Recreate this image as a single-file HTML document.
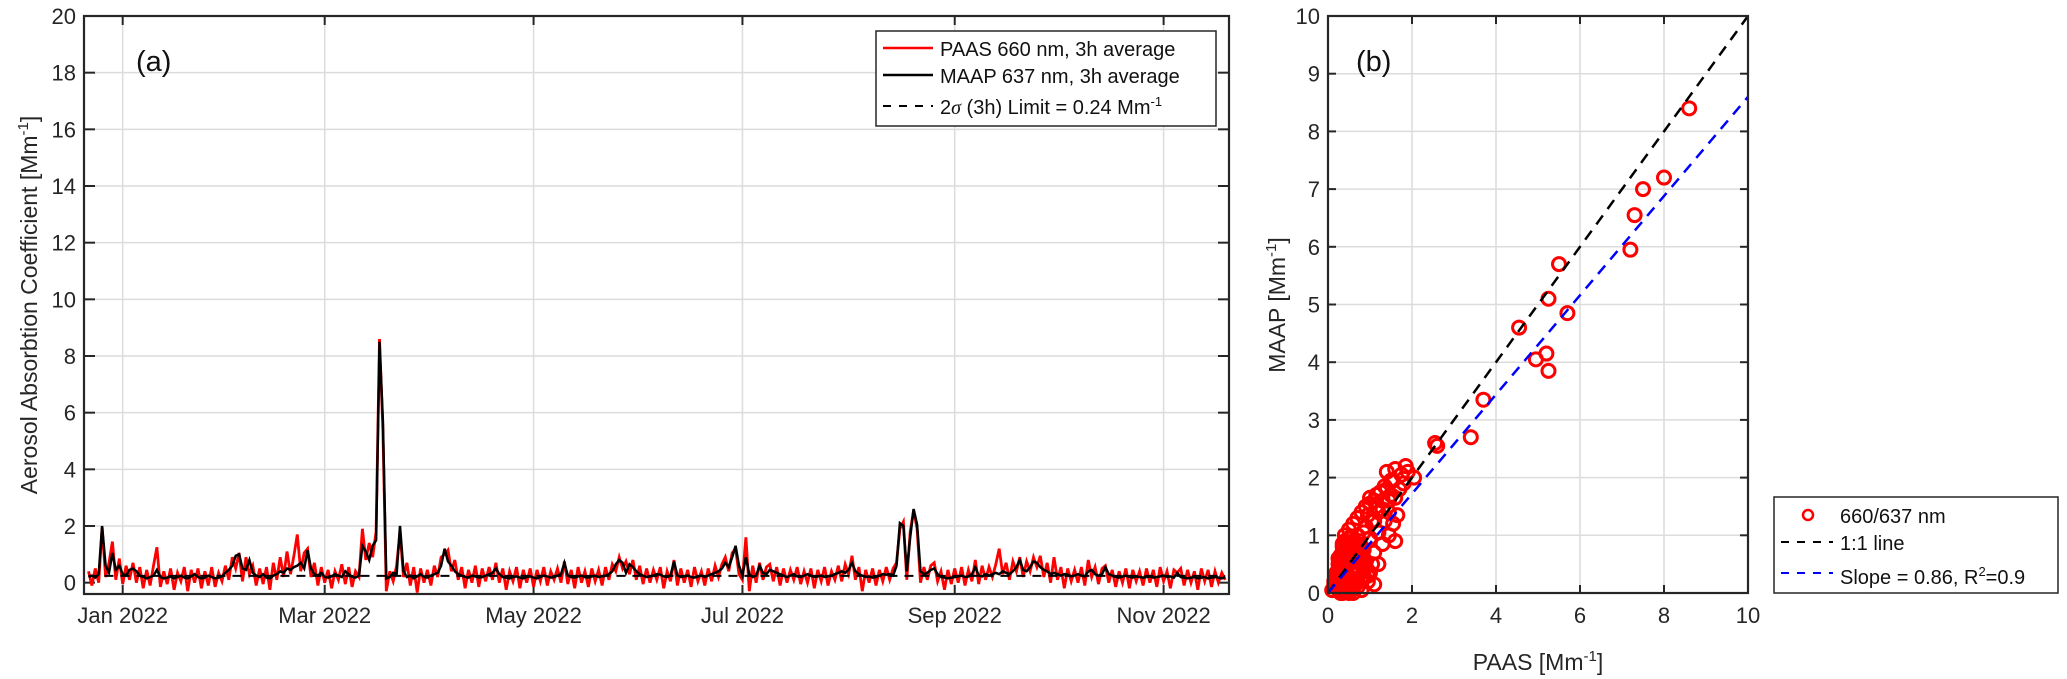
<!DOCTYPE html>
<html><head><meta charset="utf-8"><style>
html,body{margin:0;padding:0;background:#fff}
svg{display:block;font-family:"Liberation Sans",Arial,sans-serif}
</style></head><body>
<svg id="c" width="2067" height="679" viewBox="0 0 2067 679"></svg>
<script>
// ---------- data ----------
const startDay = -10; // days relative to 1 Jan 2022
const maap = [
0.20,0.25,0.18,0.30,2.00,0.60,0.35,1.05,0.45,0.60,
0.30,0.25,0.45,0.50,0.40,0.25,0.20,0.15,0.20,0.25,
0.45,0.20,0.15,0.18,0.22,0.15,0.20,0.25,0.18,0.15,
0.22,0.30,0.20,0.15,0.18,0.25,0.20,0.15,0.18,0.22,
0.35,0.45,0.60,0.95,1.00,0.50,0.45,0.80,0.35,0.25,
0.20,0.30,0.18,0.15,0.25,0.30,0.40,0.35,0.50,0.45,
0.55,0.60,0.70,0.50,1.15,0.50,0.30,0.25,0.35,0.20,
0.18,0.22,0.30,0.25,0.20,0.40,0.30,0.20,0.18,0.25,
1.30,1.10,0.80,1.30,1.50,8.50,5.70,0.15,0.20,0.35,
0.30,2.00,0.40,0.20,0.25,0.15,0.22,0.30,0.20,0.18,
0.25,0.30,0.35,0.60,1.20,0.75,0.60,0.40,0.30,0.25,
0.20,0.18,0.25,0.22,0.18,0.20,0.25,0.30,0.35,0.50,
0.30,0.20,0.18,0.15,0.20,0.22,0.18,0.15,0.20,0.22,
0.18,0.15,0.20,0.25,0.22,0.18,0.20,0.25,0.30,0.70,
0.25,0.20,0.18,0.22,0.25,0.20,0.18,0.22,0.25,0.20,
0.22,0.25,0.30,0.40,0.65,0.80,0.70,0.35,0.65,0.55,
0.40,0.30,0.25,0.20,0.22,0.25,0.30,0.28,0.22,0.20,
0.25,0.75,0.25,0.20,0.22,0.25,0.20,0.18,0.22,0.25,
0.20,0.25,0.30,0.35,0.40,0.50,0.70,0.55,0.90,1.30,
0.60,0.25,0.90,0.30,0.20,0.25,0.60,0.35,0.30,0.45,
0.40,0.35,0.30,0.25,0.20,0.25,0.30,0.22,0.20,0.25,
0.30,0.25,0.20,0.22,0.25,0.20,0.22,0.25,0.30,0.35,
0.40,0.35,0.45,0.70,0.40,0.30,0.25,0.20,0.22,0.18,
0.20,0.25,0.30,0.28,0.30,0.25,0.60,2.10,2.00,0.40,
1.60,2.60,2.05,0.40,0.30,0.35,0.45,0.50,0.30,0.20,
0.18,0.15,0.18,0.20,0.22,0.25,0.20,0.22,0.30,0.55,
0.25,0.22,0.30,0.25,0.30,0.35,0.30,0.40,0.35,0.30,
0.40,0.55,0.80,0.45,0.40,0.55,0.75,0.70,0.55,0.45,
0.40,0.30,0.35,0.30,0.25,0.30,0.28,0.22,0.25,0.30,
0.25,0.22,0.40,0.45,0.30,0.25,0.30,0.55,0.30,0.25,
0.20,0.18,0.22,0.25,0.20,0.18,0.22,0.20,0.18,0.20,
0.22,0.18,0.20,0.22,0.25,0.20,0.22,0.18,0.35,0.20,
0.18,0.15,0.18,0.20,0.15,0.18,0.20,0.15,0.18,0.20,
0.18,0.15,0.20];
const paas = [
0.40,-0.10,0.50,0.00,1.95,0.20,0.70,1.45,0.10,0.85,
-0.05,0.60,0.10,0.70,0.00,0.55,-0.20,0.45,-0.10,0.60,
1.25,-0.15,0.40,-0.05,0.50,-0.25,0.35,0.05,0.55,-0.30,
0.45,0.00,0.50,-0.20,0.40,-0.10,0.55,-0.15,0.35,0.05,
0.60,0.10,0.90,0.50,1.05,0.05,0.90,0.30,0.60,-0.10,
0.50,-0.05,0.55,-0.25,0.70,0.10,0.90,0.20,1.10,0.30,
0.95,1.70,0.40,1.05,1.20,0.20,0.70,-0.10,0.55,0.00,
0.45,-0.20,0.40,0.10,0.65,-0.05,0.55,-0.15,0.40,0.20,
1.90,0.80,1.40,0.90,1.80,8.60,5.40,-0.30,0.40,0.05,
0.60,1.80,0.20,0.70,-0.10,0.55,-0.35,0.50,0.00,0.45,
-0.10,0.60,0.20,0.90,1.00,1.15,0.40,0.80,0.10,0.55,
-0.20,0.45,0.00,0.60,-0.15,0.50,0.05,0.55,0.10,0.70,
0.00,0.50,-0.25,0.40,0.05,0.55,-0.20,0.45,0.00,0.50,
-0.15,0.45,0.05,0.55,-0.10,0.40,0.10,0.50,0.00,0.75,
-0.05,0.45,-0.20,0.55,0.00,0.40,-0.15,0.50,0.05,0.45,
-0.10,0.55,0.10,0.65,0.40,0.90,0.50,0.75,0.30,0.80,
0.10,0.60,-0.05,0.50,0.00,0.45,0.10,0.55,-0.20,0.40,
0.05,0.80,-0.10,0.50,0.00,0.45,-0.15,0.55,0.05,0.40,
-0.10,0.50,0.05,0.60,0.20,0.65,0.90,0.40,1.05,1.20,
0.30,0.10,1.60,-0.30,0.60,0.00,0.70,0.10,0.55,0.65,
0.05,0.55,-0.10,0.50,0.00,0.45,0.10,0.55,-0.05,0.40,
0.00,0.50,-0.20,0.45,0.05,0.55,-0.10,0.40,0.10,0.60,
0.05,0.65,0.30,0.95,0.10,0.55,-0.30,0.45,0.00,0.50,
-0.10,0.45,0.05,0.55,0.10,0.50,0.70,1.90,2.15,0.10,
1.80,2.55,1.90,0.00,0.55,0.10,0.60,0.70,0.05,0.40,
-0.25,0.45,-0.05,0.50,0.00,0.55,-0.10,0.45,0.05,0.80,
-0.05,0.60,0.10,0.55,0.20,0.65,1.20,0.30,0.70,0.10,
0.75,0.40,0.90,0.20,0.75,0.40,0.90,0.55,0.95,0.20,
0.70,0.00,0.90,0.10,0.55,-0.20,0.50,0.05,0.45,0.00,
0.55,-0.10,0.80,0.20,0.55,-0.05,0.50,0.60,0.00,0.45,
-0.15,0.40,0.00,0.50,-0.20,0.45,0.05,0.40,-0.10,0.50,
0.00,0.45,-0.15,0.55,0.05,0.40,-0.20,0.45,0.35,0.50,
-0.10,0.45,0.00,0.40,-0.25,0.50,0.05,0.45,-0.15,0.40,
0.00,0.35,0.10];
const limitValue = 0.24;
const monthTickDays = [0,59,120,181,243,304];
const monthTickLabels = ["Jan 2022","Mar 2022","May 2022","Jul 2022","Sep 2022","Nov 2022"];
const yTicksA = [0,2,4,6,8,10,12,14,16,18,20];

const scatterX = [8.6,8.0,7.5,7.3,7.2,5.5,5.7,5.25,4.55,4.95,5.2,5.25,3.7,3.4,2.55,2.6,2.05,1.85,1.9,1.75,1.4,1.6,1.5,1.6,1.4,1.3,1.15,1.0,1.2,1.45,1.65,1.55,1.35,1.1,0.9,1.2,1.45,1.6,1.3,1.0,0.7,0.55,0.8,1.1,1.2,0.9,1.0,0.75,
0.5,0.6,0.45,0.35,0.7,0.55,0.4,0.3,0.65,0.8,0.5,0.35,0.25,0.45,0.6,0.7,0.85,0.3,0.2,0.4,0.55,0.75,0.9,0.5,0.35,0.6,0.25,0.45,0.65,0.8,0.3,0.4,0.55,0.2,0.35,0.5,0.7,0.95,1.05,0.6,0.45,0.3,0.15,0.25,0.4,0.55,0.65,0.5,0.35,0.75,0.85,0.95,0.6,0.45,0.3,0.2,0.1,0.4,0.55,0.7,0.8,0.65,1.1,0.85,0.5,0.35,
0.15,0.2,0.25,0.3,0.35,0.4,0.45,0.5,0.55,0.6,0.2,0.25,0.3,0.35,0.4,0.45,0.5,0.55,0.6,0.65,0.25,0.3,0.35,0.4,0.45,0.5,0.55,0.6,0.65,0.7,0.3,0.35,0.4,0.45,0.5,0.55,0.6,0.7,0.75,0.8,0.4,0.5,0.6,0.7,0.8,0.9,1.0,1.1,1.25,1.35,1.5,1.7,1.8,0.95,1.15,1.3,1.45,1.05,0.85,1.55];
const scatterY = [8.4,7.2,7.0,6.55,5.95,5.7,4.85,5.1,4.6,4.05,4.15,3.85,3.35,2.7,2.6,2.55,2.0,2.2,2.1,2.05,2.1,2.15,1.95,1.65,1.8,1.6,1.7,1.65,1.4,1.4,1.35,1.2,1.25,1.25,1.15,1.05,1.0,0.9,0.85,0.95,1.0,0.95,0.8,0.7,0.5,0.55,0.35,0.6,
0.85,0.9,0.75,0.7,0.8,0.6,0.6,0.55,0.65,0.7,0.5,0.45,0.4,0.45,0.45,0.55,0.6,0.3,0.3,0.3,0.35,0.4,0.45,0.2,0.2,0.25,0.15,0.1,0.15,0.25,0.05,0.05,0.05,0.1,0.0,0.0,0.1,0.3,0.5,0.0,0.25,0.35,0.15,0.6,0.5,0.7,0.75,0.95,0.85,0.9,0.3,0.2,0.1,0.15,0.1,0.2,0.05,0.4,0.55,0.2,0.05,0.35,0.15,0.75,0.1,0.65,
0.2,0.35,0.5,0.65,0.8,0.9,0.7,0.55,0.4,0.25,0.1,0.25,0.4,0.55,0.7,0.8,0.95,0.75,0.6,0.45,0.05,0.15,0.3,0.45,0.6,0.75,0.85,0.7,0.55,0.4,0.0,0.1,0.2,0.35,0.5,0.65,0.8,0.85,0.65,0.5,1.0,1.1,1.2,1.3,1.4,1.5,1.55,1.6,1.75,1.85,1.7,1.8,1.9,1.35,1.5,1.45,1.6,1.25,1.05,1.95];
const xTicksB = [0,2,4,6,8,10];
const yTicksB = [0,1,2,3,4,5,6,7,8,9,10];
const fitSlope = 0.86;

// ---------- helpers ----------
const NS = "http://www.w3.org/2000/svg";
const svg = document.getElementById('c');
function mk(tag, attrs, parent){ const e=document.createElementNS(NS,tag); for(const k in attrs) e.setAttribute(k,attrs[k]); (parent||svg).appendChild(e); return e; }
const AX = "#262626", GRID = "#dcdcdc";

// Panel A geometry
const aL=84, aR=1229, aT=16, aB=594;
const dMin=-11.3, dMax=323.1, yMinA=-0.4, yMaxA=20;
const xA = d => aL + (d-dMin)/(dMax-dMin)*(aR-aL);
const yA = v => aB - (v-yMinA)/(yMaxA-yMinA)*(aB-aT);

// Panel B geometry
const bL=1328, bR=1748, bT=16, bB=593;
const xB = v => bL + v/10*(bR-bL);
const yB = v => bB - v/10*(bB-bT);

// ---------- panel A ----------
const gA = mk('g',{});


monthTickDays.forEach((d,i)=>{
  const gl=mk('line',{x1:xA(d),x2:xA(d),y1:aT,y2:aB,stroke:GRID,'stroke-width':1.5},gA);
   
  const t=mk('text',{x:xA(d),y:aB+29,'font-size':22,'text-anchor':'middle',fill:AX},gA);
  t.textContent=monthTickLabels[i];
   
  mk('line',{x1:xA(d),x2:xA(d),y1:aB,y2:aB-9,stroke:AX,'stroke-width':2},gA);
  mk('line',{x1:xA(d),x2:xA(d),y1:aT,y2:aT+9,stroke:AX,'stroke-width':2},gA);
});
yTicksA.forEach(v=>{
  if(v>0&&v<20){ const gl=mk('line',{x1:aL,x2:aR,y1:yA(v),y2:yA(v),stroke:GRID,'stroke-width':1.5},gA);
    }
  mk('line',{x1:aL,x2:aL+11,y1:yA(v),y2:yA(v),stroke:AX,'stroke-width':2},gA);
  mk('line',{x1:aR,x2:aR-11,y1:yA(v),y2:yA(v),stroke:AX,'stroke-width':2},gA);
  const t=mk('text',{x:aL-8,y:yA(v)+8,'font-size':22,'text-anchor':'end',fill:AX},gA);
  t.textContent=v;
   
});
// series
const pPts = paas.map((v,i)=>xA(startDay+i).toFixed(1)+','+yA(v).toFixed(1)).join(' ');
const pl=mk('polyline',{points:pPts,fill:'none',stroke:'#ff0000','stroke-width':2.8,'stroke-linejoin':'miter'},gA);
 
const lim=mk('line',{x1:xA(startDay),x2:xA(startDay+paas.length-1),y1:yA(limitValue),y2:yA(limitValue),stroke:'#000','stroke-width':2,'stroke-dasharray':'9,7'},gA);
 
const mPts = maap.map((v,i)=>xA(startDay+i).toFixed(1)+','+yA(v).toFixed(1)).join(' ');
const ml=mk('polyline',{points:mPts,fill:'none',stroke:'#000','stroke-width':2.5},gA);
 
const fa=mk('rect',{x:aL,y:aT,width:aR-aL,height:aB-aT,fill:'none',stroke:AX,'stroke-width':2.2},gA);
 
const la=mk('text',{x:136,y:71,'font-size':29,fill:'#111'},gA); la.textContent='(a)';
 
const yt=mk('text',{transform:'translate(37,305) rotate(-90)','font-size':23,'text-anchor':'middle',fill:AX},gA);
yt.innerHTML='Aerosol Absorbtion Coefficient [Mm<tspan dy="-9" font-size="15">-1</tspan><tspan dy="9">]</tspan>';
 
// legend A
const lgA=mk('g',{},gA);  
mk('rect',{x:876,y:31,width:340,height:95,fill:'#fff',stroke:AX,'stroke-width':1.5},lgA);
mk('line',{x1:883,x2:933,y1:48,y2:48,stroke:'#ff0000','stroke-width':2.5},lgA);
mk('line',{x1:883,x2:933,y1:75,y2:75,stroke:'#000','stroke-width':2.5},lgA);
mk('line',{x1:883,x2:933,y1:106,y2:106,stroke:'#000','stroke-width':2,'stroke-dasharray':'8,8'},lgA);
let e=mk('text',{x:940,y:56,'font-size':20,fill:'#111'},lgA); e.textContent='PAAS 660 nm, 3h average';
 
e=mk('text',{x:940,y:83,'font-size':20,fill:'#111'},lgA); e.textContent='MAAP 637 nm, 3h average';
 
e=mk('text',{x:940,y:114,'font-size':20,fill:'#111'},lgA); e.innerHTML='2<tspan font-family="Liberation Serif" font-style="italic">σ</tspan> (3h) Limit = 0.24 Mm<tspan dy="-8" font-size="13">-1</tspan>';
 

// ---------- panel B ----------
const gB = mk('g',{});


xTicksB.forEach(v=>{
  if(v>0&&v<10){ const gl=mk('line',{x1:xB(v),x2:xB(v),y1:bT,y2:bB,stroke:GRID,'stroke-width':1.5},gB);
    }
  mk('line',{x1:xB(v),x2:xB(v),y1:bB,y2:bB-8,stroke:AX,'stroke-width':2},gB);
  mk('line',{x1:xB(v),x2:xB(v),y1:bT,y2:bT+8,stroke:AX,'stroke-width':2},gB);
  const t=mk('text',{x:xB(v),y:bB+30,'font-size':22,'text-anchor':'middle',fill:AX},gB); t.textContent=v;
   
});
yTicksB.forEach(v=>{
  if(v>0&&v<10){ const gl=mk('line',{x1:bL,x2:bR,y1:yB(v),y2:yB(v),stroke:GRID,'stroke-width':1.5},gB);
    }
  mk('line',{x1:bL,x2:bL+8,y1:yB(v),y2:yB(v),stroke:AX,'stroke-width':2},gB);
  mk('line',{x1:bR,x2:bR-8,y1:yB(v),y2:yB(v),stroke:AX,'stroke-width':2},gB);
  const t=mk('text',{x:bL-8,y:yB(v)+8,'font-size':22,'text-anchor':'end',fill:AX},gB); t.textContent=v;
   
});
scatterX.forEach((xv,i)=>{
  const c=mk('circle',{cx:xB(xv),cy:yB(scatterY[i]),r:6.5,fill:'none',stroke:'#ff0000','stroke-width':3},gB);
   
});
const one=mk('line',{x1:xB(0),y1:yB(0),x2:xB(10),y2:yB(10),stroke:'#000','stroke-width':2.5,'stroke-dasharray':'11,8'},gB);
 
const fit=mk('line',{x1:xB(0),y1:yB(0),x2:xB(10),y2:yB(10*fitSlope),stroke:'#0000ff','stroke-width':2.5,'stroke-dasharray':'11,8'},gB);
 
const fb=mk('rect',{x:bL,y:bT,width:bR-bL,height:bB-bT,fill:'none',stroke:AX,'stroke-width':2.2},gB);
 
const lb=mk('text',{x:1356,y:71,'font-size':29,fill:'#111'},gB); lb.textContent='(b)';
 
const ytb=mk('text',{transform:'translate(1285,305) rotate(-90)','font-size':23,'text-anchor':'middle',fill:AX},gB);
ytb.innerHTML='MAAP [Mm<tspan dy="-9" font-size="15">-1</tspan><tspan dy="9">]</tspan>';
 
const xtb=mk('text',{x:1538,y:670,'font-size':23,'text-anchor':'middle',fill:AX},gB);
xtb.innerHTML='PAAS [Mm<tspan dy="-9" font-size="15">-1</tspan><tspan dy="9">]</tspan>';
 
// legend B
const lgB=mk('g',{});  
mk('rect',{x:1774,y:497,width:284,height:96,fill:'#fff',stroke:AX,'stroke-width':1.5},lgB);
mk('circle',{cx:1808,cy:515,r:5,fill:'none',stroke:'#ff0000','stroke-width':2.5},lgB);
mk('line',{x1:1781,x2:1833,y1:542,y2:542,stroke:'#000','stroke-width':2,'stroke-dasharray':'8,8'},lgB);
mk('line',{x1:1781,x2:1833,y1:573,y2:573,stroke:'#0000ff','stroke-width':2,'stroke-dasharray':'8,8'},lgB);
e=mk('text',{x:1840,y:523,'font-size':20,fill:'#111'},lgB); e.textContent='660/637 nm';
 
e=mk('text',{x:1840,y:550,'font-size':20,fill:'#111'},lgB); e.textContent='1:1 line';
 
e=mk('text',{x:1840,y:584,'font-size':20,fill:'#111'},lgB); e.innerHTML='Slope = 0.86, R<tspan dy="-8" font-size="13">2</tspan><tspan dy="8">=0.9</tspan>';
 
</script>
</body></html>
